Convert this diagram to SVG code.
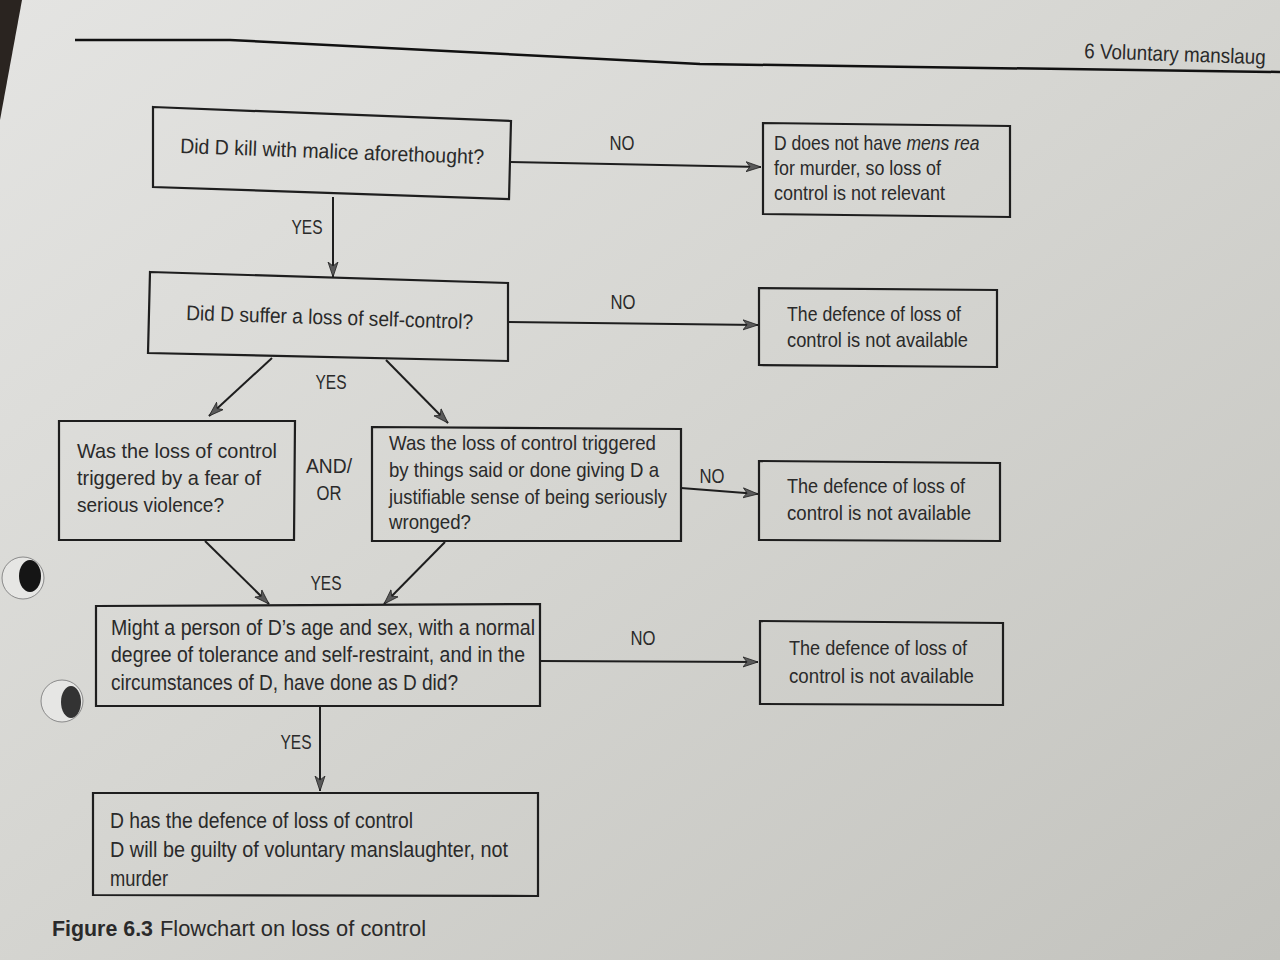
<svg xmlns="http://www.w3.org/2000/svg" width="1280" height="960" viewBox="0 0 1280 960">
<defs>
<linearGradient id="bg" x1="0" y1="0" x2="1" y2="1">
<stop offset="0" stop-color="#e4e4e2"/>
<stop offset="0.45" stop-color="#d6d6d2"/>
<stop offset="1" stop-color="#c3c3be"/>
</linearGradient>
<marker id="ah" markerWidth="16" markerHeight="12" refX="15" refY="6" orient="auto" markerUnits="userSpaceOnUse">
<path d="M0,1 L15,6 L0,11 L4,6 z" fill="#5a5a5a" stroke="#222" stroke-width="0.8"/>
</marker>
<style>
.box{fill:none;stroke:#1e1e1e;stroke-width:2.2}
.t{font-family:"Liberation Sans",Arial,sans-serif;font-size:21px;fill:#2a2a2a}
.b{font-size:22px}
.lbl{font-family:"Liberation Sans",Arial,sans-serif;font-size:20px;fill:#2a2a2a;text-anchor:middle}
.c{fill:none;stroke:#1e1e1e;stroke-width:2;marker-end:url(#ah)}
.cap{font-family:"Liberation Sans",Arial,sans-serif;font-size:22px;fill:#2a2a2a}
</style>
</defs>
<rect width="1280" height="960" fill="url(#bg)"/>
<polygon points="0,0 22,0 0,120" fill="#2a2420"/>
<g id="holes">
<circle cx="23" cy="578" r="21" fill="#e6e6e4" stroke="#8a8a8a" stroke-width="1"/>
<ellipse cx="30" cy="576" rx="11" ry="16" fill="#151515"/>
<circle cx="62" cy="701" r="21" fill="#e6e6e4" stroke="#8a8a8a" stroke-width="1"/>
<ellipse cx="71" cy="702" rx="10" ry="16" fill="#333"/>
</g>
<path d="M75,40 L230,40 L700,64 L1280,72" fill="none" stroke="#111" stroke-width="2.5"/>
<text class="t" x="0" y="0" transform="translate(1084 58) rotate(2) scale(0.9 1)">6 Voluntary manslaug</text>

<g id="connectors">
<path class="c" d="M510,162 L761,167"/>
<path class="c" d="M333,197 L333,277"/>
<path class="c" d="M508,322 L758,325"/>
<path class="c" d="M272,358 L209,416"/>
<path class="c" d="M386,360 L448,423"/>
<path class="c" d="M681,488 L758,494"/>
<path class="c" d="M205,541 L269,604"/>
<path class="c" d="M445,542 L384,604"/>
<path class="c" d="M540,661 L758,662"/>
<path class="c" d="M320,707 L320,791"/>
<text class="lbl" x="622" y="150" textLength="25" lengthAdjust="spacingAndGlyphs">NO</text>
<text class="lbl" x="307" y="234" textLength="31" lengthAdjust="spacingAndGlyphs">YES</text>
<text class="lbl" x="623" y="309" textLength="25" lengthAdjust="spacingAndGlyphs">NO</text>
<text class="lbl" x="331" y="389" textLength="31" lengthAdjust="spacingAndGlyphs">YES</text>
<text class="lbl" x="329" y="473" textLength="46" lengthAdjust="spacingAndGlyphs">AND/</text>
<text class="lbl" x="329" y="500" textLength="25" lengthAdjust="spacingAndGlyphs">OR</text>
<text class="lbl" x="712" y="483" textLength="25" lengthAdjust="spacingAndGlyphs">NO</text>
<text class="lbl" x="326" y="590" textLength="31" lengthAdjust="spacingAndGlyphs">YES</text>
<text class="lbl" x="643" y="645" textLength="25" lengthAdjust="spacingAndGlyphs">NO</text>
<text class="lbl" x="296" y="749" textLength="31" lengthAdjust="spacingAndGlyphs">YES</text>
</g>

<g id="q1">
<polygon class="box" points="153,107 511,121 509,199 153,187"/>
<text class="t" x="180" y="153" textLength="304" lengthAdjust="spacingAndGlyphs" transform="rotate(2.1 180 153)">Did D kill with malice aforethought?</text>
</g>
<g id="r1">
<polygon class="box" points="763,123 1010,126 1010,217 763,214"/>
<text class="t" x="0" y="0" transform="translate(774 150) scale(0.835 1)">D does not have <tspan font-style="italic">mens rea</tspan></text>
<text class="t" x="774" y="175" textLength="167" lengthAdjust="spacingAndGlyphs">for murder, so loss of</text>
<text class="t" x="774" y="200" textLength="171" lengthAdjust="spacingAndGlyphs">control is not relevant</text>
</g>
<g id="q2">
<polygon class="box" points="150,272 508,283 508,361 148,353"/>
<text class="t" x="186" y="320" textLength="287" lengthAdjust="spacingAndGlyphs" transform="rotate(1.8 186 320)">Did D suffer a loss of self-control?</text>
</g>
<g id="r2">
<polygon class="box" points="759,288 997,290 997,367 759,365"/>
<text class="t" x="787" y="321" textLength="174" lengthAdjust="spacingAndGlyphs">The defence of loss of</text>
<text class="t" x="787" y="347" textLength="181" lengthAdjust="spacingAndGlyphs">control is not available</text>
</g>
<g id="q3a">
<polygon class="box" points="59,421 295,421 294,540 59,540"/>
<text class="t" x="77" y="458" textLength="200" lengthAdjust="spacingAndGlyphs">Was the loss of control</text>
<text class="t" x="77" y="485" textLength="184" lengthAdjust="spacingAndGlyphs">triggered by a fear of</text>
<text class="t" x="77" y="512" textLength="147" lengthAdjust="spacingAndGlyphs">serious violence?</text>
</g>
<g id="q3b">
<polygon class="box" points="372,427 681,429 681,541 372,541"/>
<text class="t" x="389" y="450" textLength="267" lengthAdjust="spacingAndGlyphs">Was the loss of control triggered</text>
<text class="t" x="389" y="477" textLength="270" lengthAdjust="spacingAndGlyphs">by things said or done giving D a</text>
<text class="t" x="389" y="504" textLength="278" lengthAdjust="spacingAndGlyphs">justifiable sense of being seriously</text>
<text class="t" x="389" y="529" textLength="82" lengthAdjust="spacingAndGlyphs">wronged?</text>
</g>
<g id="r3">
<polygon class="box" points="759,461 1000,463 1000,541 759,540"/>
<text class="t" x="787" y="493" textLength="178" lengthAdjust="spacingAndGlyphs">The defence of loss of</text>
<text class="t" x="787" y="520" textLength="184" lengthAdjust="spacingAndGlyphs">control is not available</text>
</g>
<g id="q4">
<polygon class="box" points="96,606 540,604 540,706 96,706"/>
<text class="t b" x="111" y="635" textLength="424" lengthAdjust="spacingAndGlyphs">Might a person of D’s age and sex, with a normal</text>
<text class="t b" x="111" y="662" textLength="414" lengthAdjust="spacingAndGlyphs">degree of tolerance and self-restraint, and in the</text>
<text class="t b" x="111" y="690" textLength="347" lengthAdjust="spacingAndGlyphs">circumstances of D, have done as D did?</text>
</g>
<g id="r4">
<polygon class="box" points="760,621 1003,623 1003,705 760,704"/>
<text class="t" x="789" y="655" textLength="178" lengthAdjust="spacingAndGlyphs">The defence of loss of</text>
<text class="t" x="789" y="683" textLength="185" lengthAdjust="spacingAndGlyphs">control is not available</text>
</g>
<g id="result">
<polygon class="box" points="93,793 538,793 538,896 93,895"/>
<text class="t b" x="110" y="828" textLength="303" lengthAdjust="spacingAndGlyphs">D has the defence of loss of control</text>
<text class="t b" x="110" y="857" textLength="398" lengthAdjust="spacingAndGlyphs">D will be guilty of voluntary manslaughter, not</text>
<text class="t b" x="110" y="886" textLength="58" lengthAdjust="spacingAndGlyphs">murder</text>
</g>
<text class="cap" x="52" y="936" font-weight="bold" textLength="101" lengthAdjust="spacingAndGlyphs">Figure 6.3</text>
<text class="cap" x="160" y="936" textLength="266" lengthAdjust="spacingAndGlyphs">Flowchart on loss of control</text>
</svg>
